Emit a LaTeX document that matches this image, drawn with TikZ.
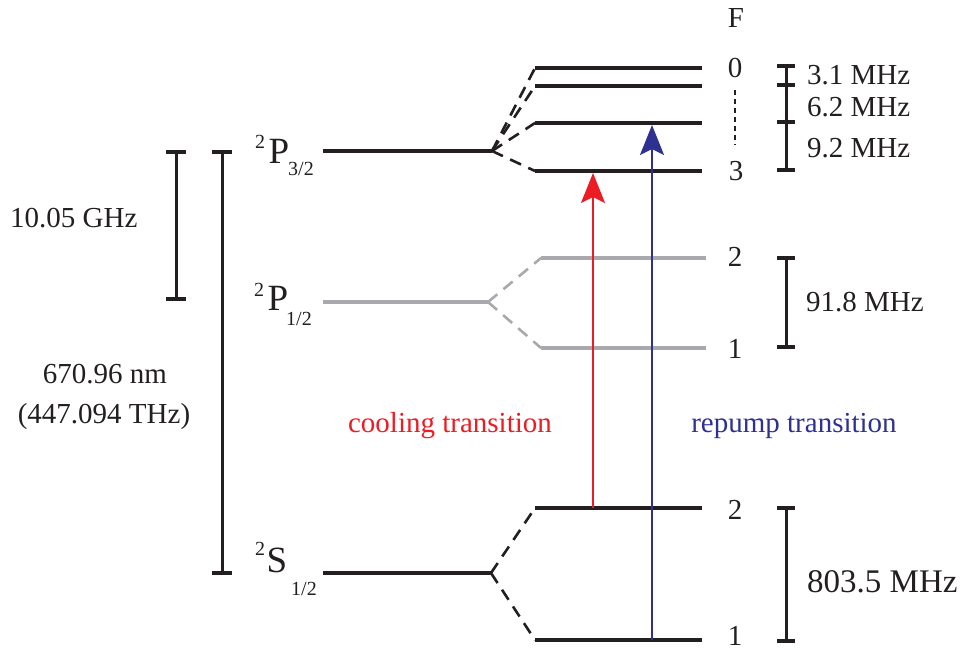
\documentclass[tikz,border=0pt]{standalone}
\usepackage{fontspec}
\setmainfont{Liberation Serif}
\usetikzlibrary{arrows.meta}
\definecolor{cred}{HTML}{ED1C24}
\definecolor{cblue}{HTML}{2E3192}
\definecolor{cgray}{HTML}{A7A9AC}
\definecolor{cblack}{HTML}{231F20}
\begin{document}
\begin{tikzpicture}[x=1pt,y=-1pt,
  level/.style={line width=3.5pt,draw=cblack},
  glevel/.style={line width=3.5pt,draw=cgray},
  split/.style={line width=2.6pt,draw=cblack,dash pattern=on 12pt off 8pt},
  gsplit/.style={split,draw=cgray},
  bracket/.style={line width=3pt,draw=cblack},
  tick/.style={line width=3.5pt,draw=cblack},
  lbl/.style={inner sep=0pt,text=cblack,font=\fontsize{29}{34}\selectfont},
  biglbl/.style={inner sep=0pt,text=cblack,font=\fontsize{33}{38}\selectfont},
  term/.style={inner sep=0pt,text=cblack,font=\fontsize{37}{40}\selectfont,anchor=base},
  script/.style={inner sep=0pt,text=cblack,font=\fontsize{20}{22}\selectfont,anchor=base},
  transarrow/.style={line width=2.2pt,-{Stealth[length=30pt,width=24pt,inset=6pt]}}
]
\useasboundingbox (0,0) rectangle (963,650);

% ---- fine structure levels ----
\coordinate (P3l) at (323,151); \coordinate (P3v) at (492,151);
\coordinate (P1l) at (323,302); \coordinate (P1v) at (488,302);
\coordinate (S1l) at (323,573); \coordinate (S1v) at (491,573);

% ---- hyperfine levels ----
\coordinate (a0) at (535,68);  \coordinate (b0) at (702,68);
\coordinate (a1) at (535,86);  \coordinate (b1) at (702,86);
\coordinate (a2) at (535,123); \coordinate (b2) at (702,123);
\coordinate (a3) at (535,171); \coordinate (b3) at (702,171);
\coordinate (g2a) at (541,258); \coordinate (g2b) at (706,258);
\coordinate (g1a) at (541,348); \coordinate (g1b) at (706,348);
\coordinate (s2a) at (535,508); \coordinate (s2b) at (702,508);
\coordinate (s1a) at (535,640); \coordinate (s1b) at (702,640);

% gray P1/2
\draw[glevel] (P1l) -- (P1v);
\draw[gsplit] (P1v) -- (g2a);
\draw[gsplit] (P1v) -- (g1a);
\draw[glevel] (g2a) -- (g2b);
\draw[glevel] (g1a) -- (g1b);

% black P3/2
\draw[level] (P3l) -- (P3v);
\draw[split] (P3v) -- (a0);
\draw[split] (P3v) -- (a1);
\draw[split] (P3v) -- (a2);
\draw[split] (P3v) -- (a3);
\draw[level] (a0) -- (b0);
\draw[level] (a1) -- (b1);
\draw[level] (a2) -- (b2);
\draw[level] (a3) -- (b3);

% black S1/2
\draw[level] (S1l) -- (S1v);
\draw[split] (S1v) -- (s2a);
\draw[split] (S1v) -- (s1a);
\draw[level] (s2a) -- (s2b);
\draw[level] (s1a) -- (s1b);

% ---- transitions ----
\coordinate (rs) at (593,508); \coordinate (re) at (593,173);
\coordinate (bs) at (652,640); \coordinate (be) at (652,125);
\draw[transarrow,draw=cred,fill=cred] (rs) -- (re);
\draw[transarrow,draw=cblue,fill=cblue] (bs) -- (be);
\node[lbl,text=cred,anchor=base] (cool) at (450,432) {cooling transition};
\node[lbl,text=cblue,anchor=base] (rep) at (794,432) {repump transition};

% ---- term labels ----
\node[script] (p3sup) at (260,148) {2};
\node[term] (p3P) at (279,163) {P};
\node[script] (p3sub) at (301,175) {3/2};
\node[script] (p1sup) at (259,296) {2};
\node[term] (p1P) at (278,310) {P};
\node[script] (p1sub) at (299,325) {1/2};
\node[script] (s1sup) at (260,555) {2};
\node[term] (s1S) at (277,572) {S};
\node[script] (s1sub) at (304,595) {1/2};

% ---- F labels ----
\node[lbl] (Flab) at (736,18) {F};
\node[lbl] (f0) at (735,68) {0};
\node[lbl] (f3) at (736,171) {3};
\node[lbl] (fp2) at (735,257) {2};
\node[lbl] (fp1) at (735,349) {1};
\node[lbl] (fs2) at (735,510) {2};
\node[lbl] (fs1) at (735,636) {1};
\coordinate (dt) at (735,90); \coordinate (db) at (735,145);
\draw[line width=1.5pt,cblack,dash pattern=on 5pt off 4pt] (dt) -- (db);

% ---- right brackets ----
\coordinate (r0) at (786,66); \coordinate (r1) at (786,85);
\coordinate (r2) at (786,122); \coordinate (r3) at (786,170);
\draw[bracket] (r0) -- (r3);
\foreach \c in {r0,r1,r2,r3} \draw[tick] ([xshift=-9pt]\c) -- ([xshift=9pt]\c);
\node[lbl,anchor=west] (m31) at (807,75) {3.1 MHz};
\node[lbl,anchor=west] (m62) at (807,107) {6.2 MHz};
\node[lbl,anchor=west] (m92) at (807,148) {9.2 MHz};

\coordinate (q0) at (786,258); \coordinate (q1) at (786,347);
\draw[bracket] (q0) -- (q1);
\foreach \c in {q0,q1} \draw[tick] ([xshift=-9pt]\c) -- ([xshift=9pt]\c);
\node[lbl,anchor=west] (m918) at (806,302) {91.8 MHz};

\coordinate (u0) at (786,508); \coordinate (u1) at (786,641);
\draw[bracket] (u0) -- (u1);
\foreach \c in {u0,u1} \draw[tick] ([xshift=-9pt]\c) -- ([xshift=9pt]\c);
\node[biglbl,anchor=west] (m803) at (807,582) {803.5 MHz};

% ---- left brackets ----
\coordinate (l0) at (176,152); \coordinate (l1) at (176,299);
\draw[bracket] (l0) -- (l1);
\foreach \c in {l0,l1} \draw[tick] ([xshift=-10pt]\c) -- ([xshift=10pt]\c);
\node[lbl,anchor=west] (g1005) at (10,218) {10.05 GHz};

\coordinate (k0) at (222,152); \coordinate (k1) at (222,573);
\draw[bracket] (k0) -- (k1);
\foreach \c in {k0,k1} \draw[tick] ([xshift=-10pt]\c) -- ([xshift=10pt]\c);
\node[lbl,anchor=base] (nm) at (105,383) {670.96 nm};
\node[lbl,anchor=base] (thz) at (104,423) {(447.094 THz)};
\end{tikzpicture}
\end{document}
